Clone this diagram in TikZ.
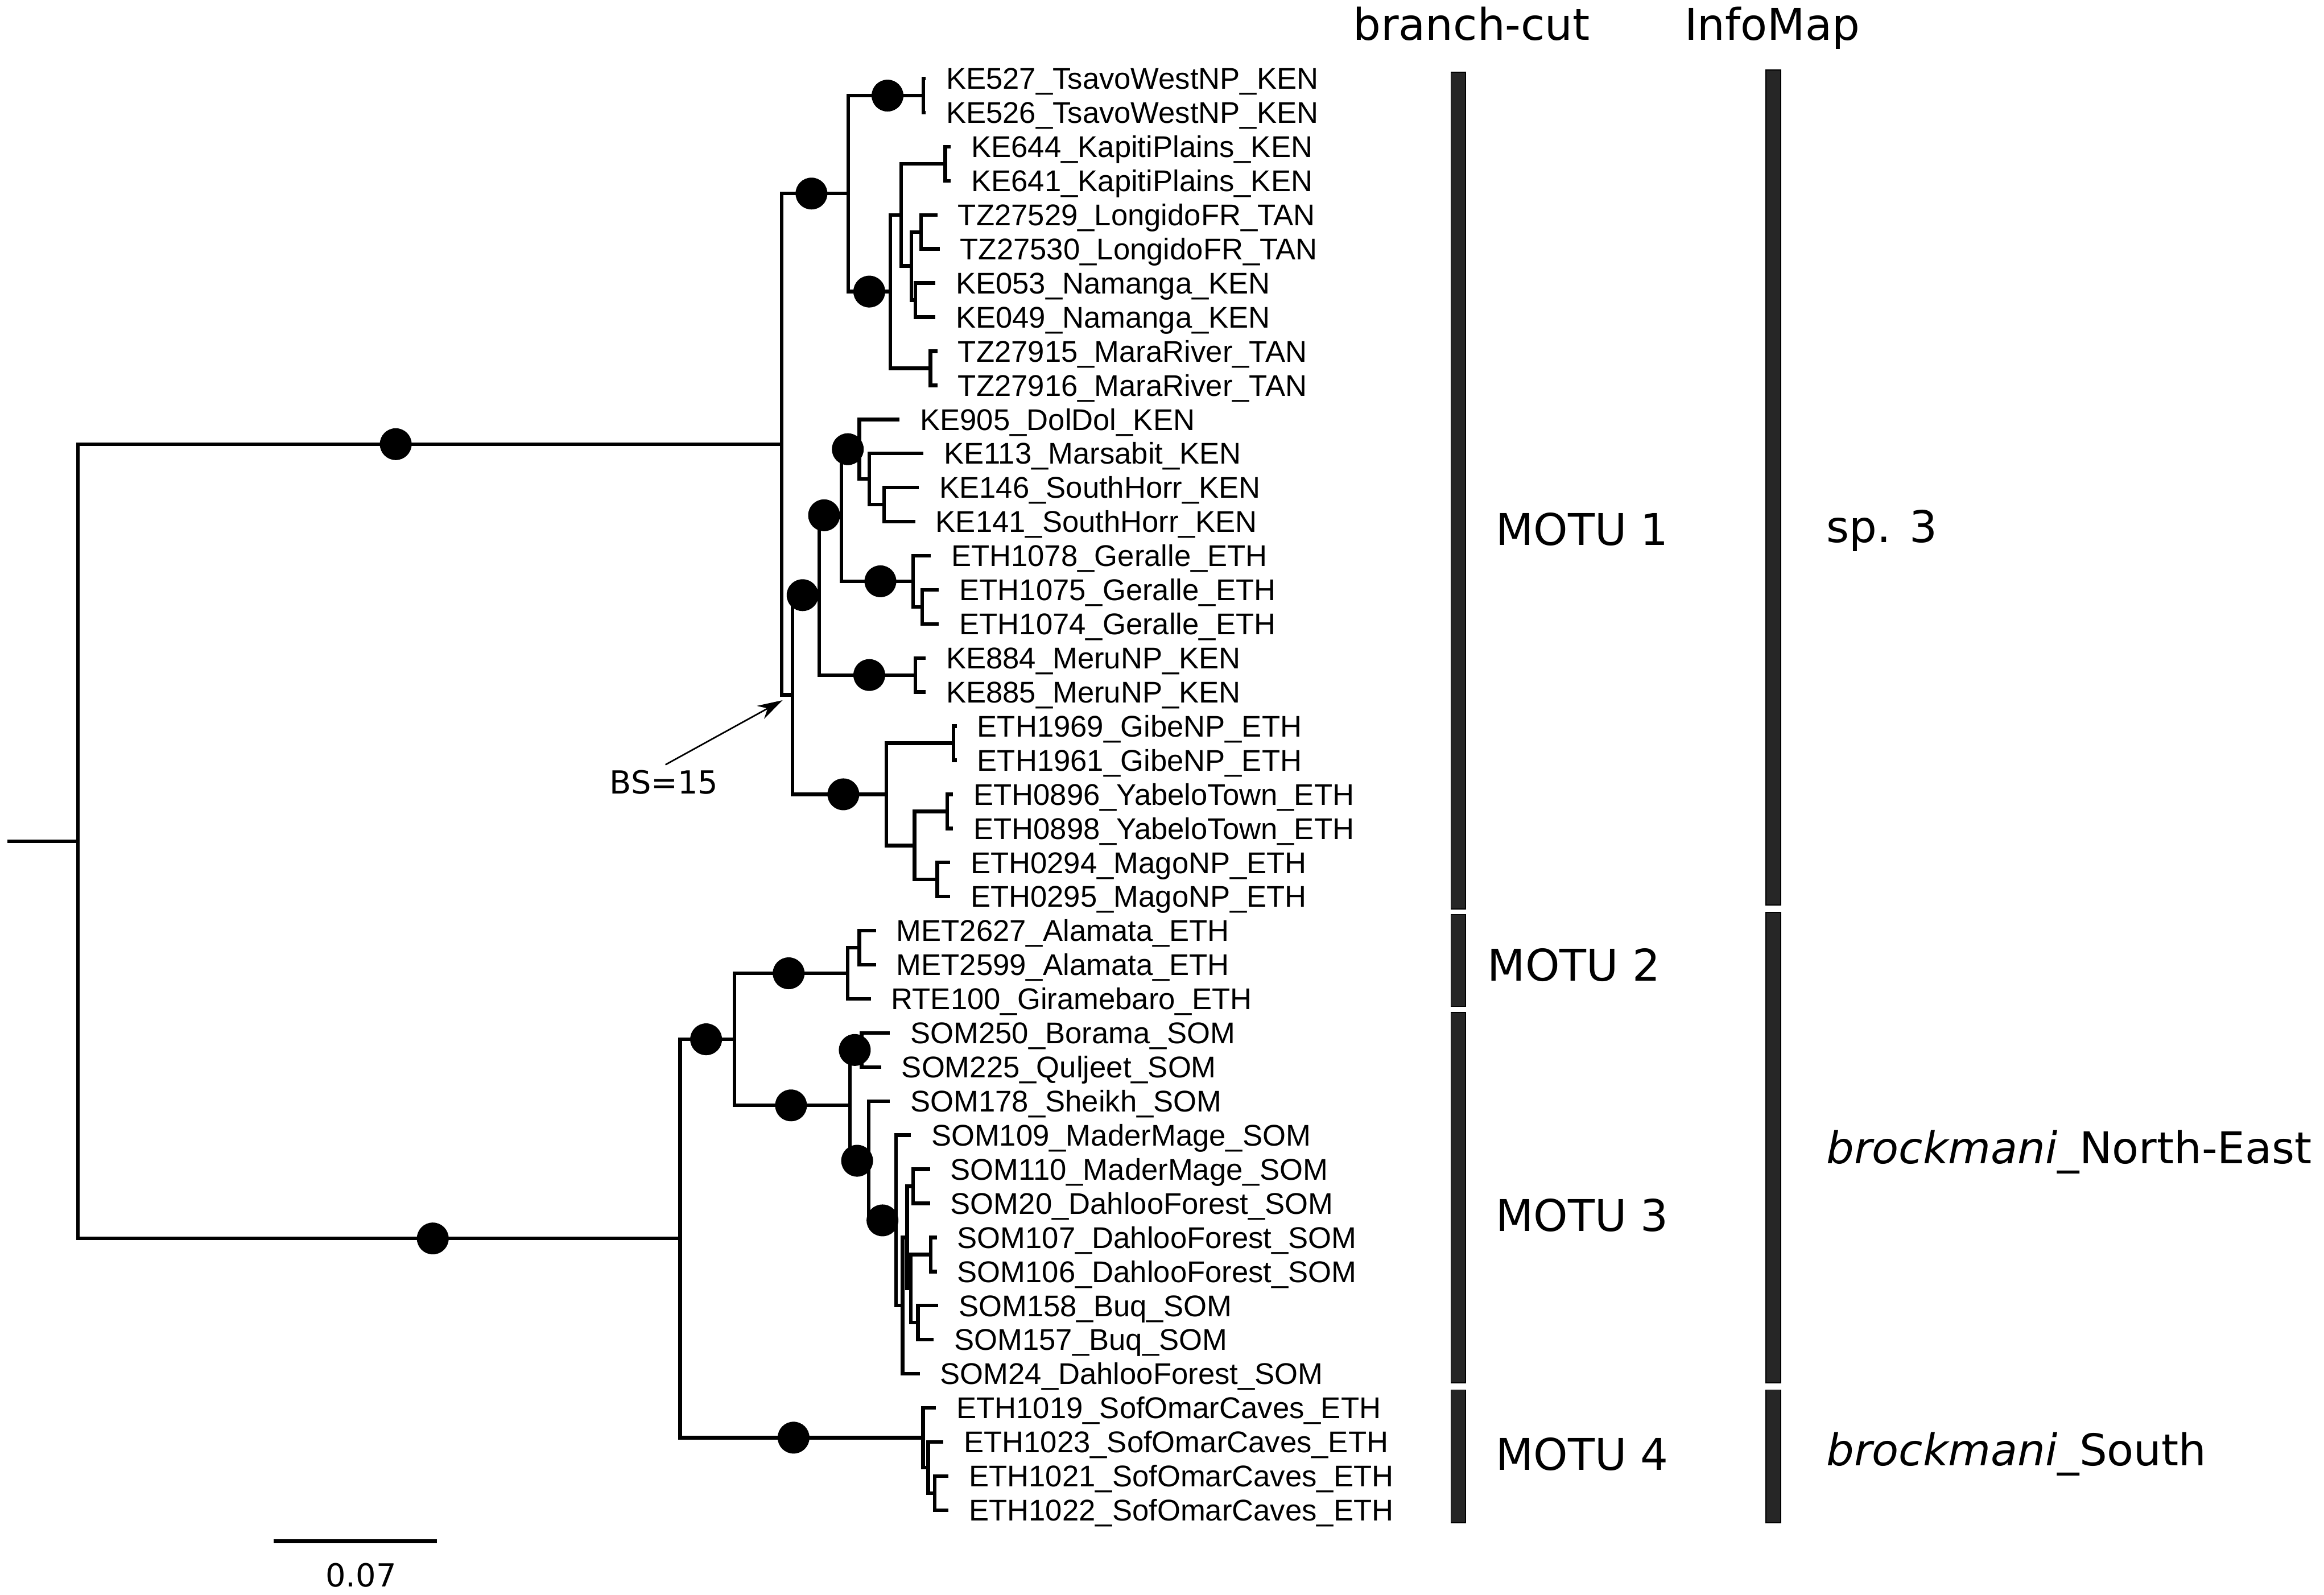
\documentclass[tikz,border=0pt]{standalone}
\usepackage{fontspec}
\setmainfont{Liberation Sans}
\newfontfamily\dejavu{DejaVu Sans}
\usetikzlibrary{arrows.meta}

\begin{document}
\begin{tikzpicture}[
  x=0.02cm, y=-0.02cm,
  branch/.style={line width=1.4pt},
  taxon/.style={anchor=west, inner xsep=0.27cm, inner ysep=0pt,
    text height=8.2pt, text depth=0pt, font=\fontsize{11.5}{12}\selectfont},
  bsdot/.style={circle, fill=black, inner sep=0pt, minimum size=0.43cm},
  bar/.style={fill=black!85, draw=black, line width=0.4pt},
  colhead/.style={anchor=base, font=\dejavu\fontsize{16.8}{18}\selectfont},
  grplbl/.style={anchor=base west, font=\dejavu\fontsize{16.8}{18}\selectfont},
  note/.style={inner sep=0pt, font=\dejavu\fontsize{12.2}{13}\selectfont},
  arr/.style={-{Stealth[length=0.34cm,width=0.2cm]}, line width=0.6pt}
]
\useasboundingbox (0,0) rectangle (1568,1076);
% Tips: row y = 53 + 23*(i-1)
\foreach \i/\tx/\lbl in {
  1/624.5/KE527\_TsavoWestNP\_KEN, 2/624.5/KE526\_TsavoWestNP\_KEN,
  3/641.5/KE644\_KapitiPlains\_KEN, 4/641.5/KE641\_KapitiPlains\_KEN,
  5/632.5/TZ27529\_LongidoFR\_TAN, 6/634/TZ27530\_LongidoFR\_TAN,
  7/631/KE053\_Namanga\_KEN, 8/631/KE049\_Namanga\_KEN,
  9/632.5/TZ27915\_MaraRiver\_TAN, 10/632.5/TZ27916\_MaraRiver\_TAN,
  11/607/KE905\_DolDol\_KEN, 12/623/KE113\_Marsabit\_KEN,
  13/620/KE146\_SouthHorr\_KEN, 14/617.5/KE141\_SouthHorr\_KEN,
  15/628/ETH1078\_Geralle\_ETH, 16/633.5/ETH1075\_Geralle\_ETH,
  17/633.5/ETH1074\_Geralle\_ETH,
  18/624.5/KE884\_MeruNP\_KEN, 19/624.5/KE885\_MeruNP\_KEN,
  20/645.5/ETH1969\_GibeNP\_ETH, 21/645.5/ETH1961\_GibeNP\_ETH,
  22/643/ETH0896\_YabeloTown\_ETH, 23/643/ETH0898\_YabeloTown\_ETH,
  24/641/ETH0294\_MagoNP\_ETH, 25/641/ETH0295\_MagoNP\_ETH,
  26/591/MET2627\_Alamata\_ETH, 27/591/MET2599\_Alamata\_ETH,
  28/587.5/RTE100\_Giramebaro\_ETH,
  29/600.5/SOM250\_Borama\_SOM, 30/594.5/SOM225\_Quljeet\_SOM,
  31/600.5/SOM178\_Sheikh\_SOM, 32/614.5/SOM109\_MaderMage\_SOM,
  33/627.5/SOM110\_MaderMage\_SOM, 34/627.5/SOM20\_DahlooForest\_SOM,
  35/632/SOM107\_DahlooForest\_SOM, 36/632/SOM106\_DahlooForest\_SOM,
  37/633/SOM158\_Buq\_SOM, 38/630/SOM157\_Buq\_SOM,
  39/620.5/SOM24\_DahlooForest\_SOM,
  40/631.5/ETH1019\_SofOmarCaves\_ETH, 41/636.5/ETH1023\_SofOmarCaves\_ETH,
  42/640/ETH1021\_SofOmarCaves\_ETH, 43/640/ETH1022\_SofOmarCaves\_ETH}{
  \node[taxon] (t\i) at (\tx, {53+23*(\i-1)}) {\lbl};
}
% Internal nodes (upper clade)
\coordinate (nTsavo) at (622.9,64.5);
\coordinate (nKap) at (637.7,110.5);
\coordinate (nLon) at (621.5,156.5);
\coordinate (nNam) at (617.5,202.5);
\coordinate (nLN) at (614.8,179.5);
\coordinate (nKLN) at (608,145);
\coordinate (nMara) at (627.7,248.5);
\coordinate (nA) at (600.8,196.75);
\coordinate (nK) at (572.2,130.6);
\coordinate (nSH) at (596.5,340.5);
\coordinate (nJ) at (586.5,323.25);
\coordinate (nI) at (579.8,303.1);
\coordinate (nGer2) at (622.3,409.5);
\coordinate (nGer) at (616.1,392.25);
\coordinate (nH) at (567.7,347.7);
\coordinate (nMeru) at (617.5,455.5);
\coordinate (nF) at (552.8,401.6);
\coordinate (nGibe) at (643.3,501.5);
\coordinate (nYab) at (639.2,547.5);
\coordinate (nMago) at (632.4,593.5);
\coordinate (nYM) at (617,570.5);
\coordinate (nG) at (598.1,536);
\coordinate (nE) at (534.7,468.8);
\coordinate (nU) at (527.3,299.7);
% Internal nodes (lower clade)
\coordinate (nMET) at (579.8,639.5);
\coordinate (nMR) at (571.9,656.75);
\coordinate (nP1) at (581.4,708.5);
\coordinate (nY) at (616,800.5);
\coordinate (nQ1) at (627.9,846.5);
\coordinate (nQ2) at (619.3,892.5);
\coordinate (nZ) at (614.5,869.5);
\coordinate (nX) at (612,835);
\coordinate (nW) at (609,881);
\coordinate (nV) at (604.5,823.5);
\coordinate (nT) at (586.2,783.25);
\coordinate (nS) at (573.5,745.9);
\coordinate (nM) at (495.5,701.3);
\coordinate (nSof3) at (630.7,1007.5);
\coordinate (nSof2) at (626.2,990.25);
\coordinate (nSof) at (622.8,970.1);
\coordinate (nL) at (458.9,835.7);
\coordinate (nRoot) at (52.5,567.7);
\coordinate (rootin) at (5,567.7);
% Branches
\draw[branch] (rootin) -- (nRoot);
\foreach \p/\c in {nRoot/nU, nRoot/nL, nU/nK, nU/nE, nK/nTsavo, nK/nA,
  nTsavo/t1, nTsavo/t2, nA/nKLN, nA/nMara, nKLN/nKap, nKLN/nLN,
  nKap/t3, nKap/t4, nLN/nLon, nLN/nNam, nLon/t5, nLon/t6, nNam/t7, nNam/t8,
  nMara/t9, nMara/t10, nE/nF, nE/nG, nF/nH, nF/nMeru, nH/nI, nH/nGer,
  nI/t11, nI/nJ, nJ/t12, nJ/nSH, nSH/t13, nSH/t14,
  nGer/t15, nGer/nGer2, nGer2/t16, nGer2/t17, nMeru/t18, nMeru/t19,
  nG/nGibe, nG/nYM, nGibe/t20, nGibe/t21, nYM/nYab, nYM/nMago,
  nYab/t22, nYab/t23, nMago/t24, nMago/t25,
  nL/nM, nL/nSof, nM/nMR, nM/nS, nMR/nMET, nMR/t28, nMET/t26, nMET/t27,
  nS/nP1, nS/nT, nP1/t29, nP1/t30, nT/t31, nT/nV, nV/t32, nV/nW,
  nW/nX, nW/t39, nX/nY, nX/nZ, nY/t33, nY/t34, nZ/nQ1, nZ/nQ2,
  nQ1/t35, nQ1/t36, nQ2/t37, nQ2/t38,
  nSof/t40, nSof/nSof2, nSof2/t41, nSof2/nSof3, nSof3/t42, nSof3/t43}
  \draw[branch] (\p) |- (\c);
% Support dots
\foreach \x/\y [count=\k] in {267/299.7, 292/835.7, 598.8/64.5, 547.5/130.6,
  586.5/196.75, 572/303.1, 556/347.7, 541.5/401.6, 594/392.25, 586.5/455.5,
  569/536, 532.1/656.75, 476.4/701.3, 533.7/745.9, 576.7/708.5,
  578.3/783.25, 595.4/823.5, 535.4/970.1}
  \node[bsdot] (dot\k) at (\x,\y) {};
% BS annotation
\node[note] (bs) at (448,528) {BS=15};
\coordinate (bsfoot) at (449,516);
\coordinate (bstip) at (528,472.5);
\draw[arr] (bsfoot) -- (bstip);
% Scale bar
\coordinate (sb0) at (184.6,1040);
\coordinate (sb1) at (294.9,1040);
\draw[branch] (sb0) -- (sb1);
\node[note] (sblbl) at (243.5,1063) {0.07};
% Delimitation columns
\node[colhead] (hbc) at (992.8,26.9) {branch-cut};
\node[colhead] (him) at (1195.7,26.9) {InfoMap};
\foreach \ya/\yb in {48.9/613.3, 617/679.2, 683.3/933.2, 937.9/1027.5}
  \draw[bar] (979,\ya) rectangle (988.8,\yb);
\foreach \ya/\yb in {47.1/610.6, 615.7/933.2, 937.9/1027.5}
  \draw[bar] (1191.4,\ya) rectangle (1201.3,\yb);
\node[grplbl] (motu1) at (1003,368) {MOTU 1};
\node[grplbl] (motu2) at (997.5,661.8) {MOTU 2};
\node[grplbl] (motu3) at (1003,831) {MOTU 3};
\node[grplbl] (motu4) at (1003,991.9) {MOTU 4};
\node[grplbl] (sp3) at (1226,366) {sp. 3};
\node[grplbl] (brne) at (1226,785) {\textit{brockmani}\_North-East};
\node[grplbl] (brs) at (1226,989) {\textit{brockmani}\_South};
\end{tikzpicture}
\end{document}
